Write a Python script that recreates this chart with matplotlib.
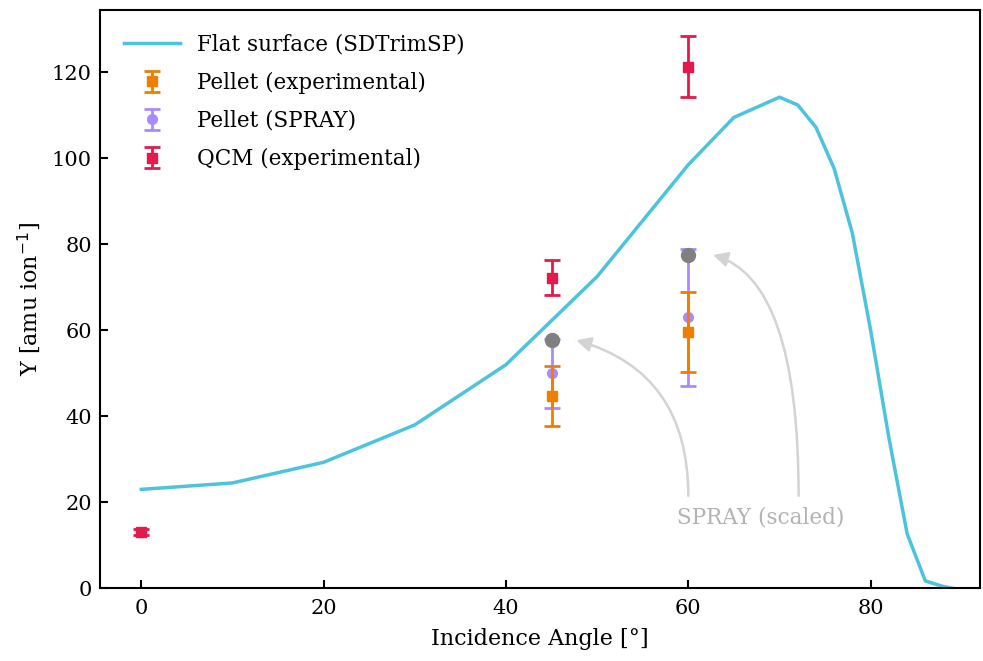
import numpy as np
import matplotlib.pyplot as plt

# Flat surface (SDTrimSP) yield curve
flat_angle = [0, 10, 20, 30, 40, 50, 60, 65, 70, 72, 74, 76, 78, 80, 82, 84, 86, 88, 89]
flat_yield = [23, 24.5, 29.3, 38, 52, 72.5, 98.5, 109.5, 114.2, 112.4, 107.2, 97.6, 82.5, 60, 35, 12.7, 1.7, 0.4, 0]

# Pellet (experimental)
pellet_angle = [45, 60]
pellet_yield = [44.8, 59.5]
pellet_err = [7.0, 9.3]

# Pellet (SPRAY)
spray_angle = [45, 60]
spray_yield = [50, 63]
spray_err = [8, 16]
spray_scaled = [57.8, 77.6]

# QCM (experimental)
qcm_angle = [0, 45, 60]
qcm_yield = [13.1, 72.2, 121.3]
qcm_err = [0.8, 4.1, 7.1]

plt.rcParams['font.family'] = ['DejaVu Serif']
plt.rcParams['font.size'] = 15

fig = plt.figure(figsize=(9.83, 6.61), dpi=100)
ax = fig.add_axes([0.102, 0.110, 0.895, 0.875])

ax.plot(flat_angle, flat_yield, color='#4cc3df', lw=2.5, label='Flat surface (SDTrimSP)', zorder=2)
ax.errorbar(pellet_angle, pellet_yield, yerr=pellet_err, fmt='s', color='#ef7f00', ms=7,
            elinewidth=2, capsize=5.5, capthick=2, label='Pellet (experimental)', zorder=4)
ax.errorbar(spray_angle, spray_yield, yerr=spray_err, fmt='o', color='#a98bfb', ms=7,
            elinewidth=2, capsize=5.5, capthick=2, label='Pellet (SPRAY)', zorder=3)
ax.errorbar(qcm_angle, qcm_yield, yerr=qcm_err, fmt='s', color='#e31a4b', ms=7,
            elinewidth=2, capsize=5.5, capthick=2, label='QCM (experimental)', zorder=4)
ax.plot(spray_angle, spray_scaled, 'o', color='#808080', ms=10, zorder=5)

# annotation arrows for the scaled SPRAY values
ax.text(67.9, 16.5, 'SPRAY (scaled)', color='#b3b3b3', ha='center', va='center', fontsize=15.5)
for sx, tx, ty in [(60, 47.7, 57.7), (72.1, 62.7, 77.5)]:
    ax.annotate('', xy=(tx, ty), xytext=(sx, 21.5),
                arrowprops=dict(arrowstyle='-|>', color='#d3d3d3', lw=1.8, mutation_scale=22,
                                connectionstyle='angle3,angleA=90,angleB=-16',
                                shrinkA=0, shrinkB=0))

ax.set_xlim(-4.5, 92)
ax.set_ylim(0, 134.5)
ax.set_xticks([0, 20, 40, 60, 80])
ax.set_yticks([0, 20, 40, 60, 80, 100, 120])
ax.tick_params(direction='in', length=6, width=1.5, labelsize=15, pad=6)
ax.tick_params(axis='x', pad=8)
for s in ax.spines.values():
    s.set_linewidth(1.5)
ax.set_xlabel('Incidence Angle [°]', fontsize=16, labelpad=7)
ax.set_ylabel('Y [amu ion$^{-1}$]', fontsize=16, labelpad=6)

ax.legend(loc='upper left', frameon=False, fontsize=15.5, handlelength=2.6,
          labelspacing=0.75, borderaxespad=0.7)

fig.savefig('out.png', dpi=100)
